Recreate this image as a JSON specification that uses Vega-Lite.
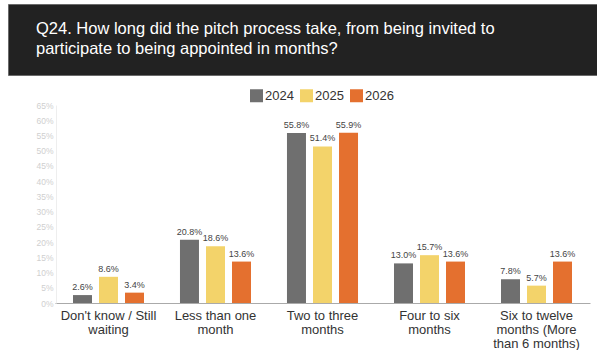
{
  "$schema": "https://vega.github.io/schema/vega-lite/v6.json",
  "background": "white",
  "padding": {"left": 7, "top": 3, "right": 0, "bottom": 0},
  "spacing": 13,
  "bounds": "full",
  "align": "none",
  "columns": 1,
  "resolve": {"legend": {"color": "independent"}},
  "config": {"font": "Liberation Sans", "view": {"stroke": null}},
  "concat": [
    {
      "width": 590,
      "height": 71,
      "view": {"fill": "#222222", "stroke": "#6a6a6a", "strokeWidth": 1},
      "title": {
        "text": ["Q24. How long did the pitch process take, from being invited to", "participate to being appointed in months?"],
        "anchor": "start",
        "frame": "group",
        "orient": "bottom",
        "dx": 28,
        "offset": -54,
        "baseline": "top",
        "lineHeight": 20,
        "color": "#ffffff",
        "fontSize": 16.5,
        "fontWeight": "normal",
        "font": "Liberation Sans"
      },
      "data": {"values": []},
      "mark": "point"
    },
    {
      "width": 582,
      "height": 198,
      "data": {
        "values": [
          {"category": "Don't know / Still waiting", "year": "2024", "value": 0.026},
          {"category": "Don't know / Still waiting", "year": "2025", "value": 0.086},
          {"category": "Don't know / Still waiting", "year": "2026", "value": 0.034},
          {"category": "Less than one month", "year": "2024", "value": 0.208},
          {"category": "Less than one month", "year": "2025", "value": 0.186},
          {"category": "Less than one month", "year": "2026", "value": 0.136},
          {"category": "Two to three months", "year": "2024", "value": 0.558},
          {"category": "Two to three months", "year": "2025", "value": 0.514},
          {"category": "Two to three months", "year": "2026", "value": 0.559},
          {"category": "Four to six months", "year": "2024", "value": 0.130},
          {"category": "Four to six months", "year": "2025", "value": 0.157},
          {"category": "Four to six months", "year": "2026", "value": 0.136},
          {"category": "Six to twelve months (More than 6 months)", "year": "2024", "value": 0.078},
          {"category": "Six to twelve months (More than 6 months)", "year": "2025", "value": 0.057},
          {"category": "Six to twelve months (More than 6 months)", "year": "2026", "value": 0.136}
        ]
      },
      "encoding": {
        "x": {
          "field": "category",
          "type": "nominal",
          "sort": null,
          "scale": {"range": [47, 582], "paddingInner": 0.336, "paddingOuter": 0.168},
          "axis": {
            "title": null,
            "labelAngle": 0,
            "ticks": false,
            "domainColor": "#aaaaaa",
            "labelColor": "#333333",
            "labelFontSize": 13,
            "labelPadding": 6,
            "labelLineHeight": 14,
            "labelBaseline": "top",
            "labelExpr": "datum.value == \"Don't know / Still waiting\" ? [\"Don't know / Still\", \"waiting\"] : datum.value == 'Less than one month' ? ['Less than one', 'month'] : datum.value == 'Two to three months' ? ['Two to three', 'months'] : datum.value == 'Four to six months' ? ['Four to six', 'months'] : ['Six to twelve', 'months (More', 'than 6 months)']"
          }
        },
        "xOffset": {"field": "year", "type": "nominal", "scale": {"paddingInner": 0.27, "paddingOuter": 0}},
        "y": {
          "field": "value",
          "type": "quantitative",
          "scale": {"domain": [0, 0.65], "nice": false},
          "axis": {
            "title": null,
            "format": ".0%",
            "values": [0, 0.05, 0.1, 0.15, 0.2, 0.25, 0.3, 0.35, 0.4, 0.45, 0.5, 0.55, 0.6, 0.65],
            "grid": false,
            "ticks": false,
            "offset": -48,
            "domainColor": "#eeeeee",
            "labelColor": "#cfcfcf",
            "labelFontSize": 8.5,
            "labelPadding": 3
          }
        }
      },
      "layer": [
        {
          "mark": {"type": "bar"},
          "encoding": {
            "color": {
              "field": "year",
              "type": "nominal",
              "scale": {"domain": ["2024", "2025", "2026"], "range": ["#6f6f6f", "#f3d36a", "#e4702f"]},
              "legend": {
                "title": null,
                "orient": "none",
                "legendX": 242,
                "legendY": -16,
                "direction": "horizontal",
                "symbolType": "square",
                "symbolSize": 169,
                "symbolStrokeWidth": 0,
                "symbolOpacity": 1,
                "labelFontSize": 13,
                "labelColor": "#333333",
                "labelOffset": 2,
                "columnPadding": 6,
                "padding": 0
              }
            }
          }
        },
        {
          "mark": {"type": "text", "baseline": "bottom", "dy": -3, "fontSize": 9, "color": "#444444"},
          "encoding": {
            "text": {"field": "value", "type": "quantitative", "format": ".1%"}
          }
        }
      ]
    }
  ]
}
